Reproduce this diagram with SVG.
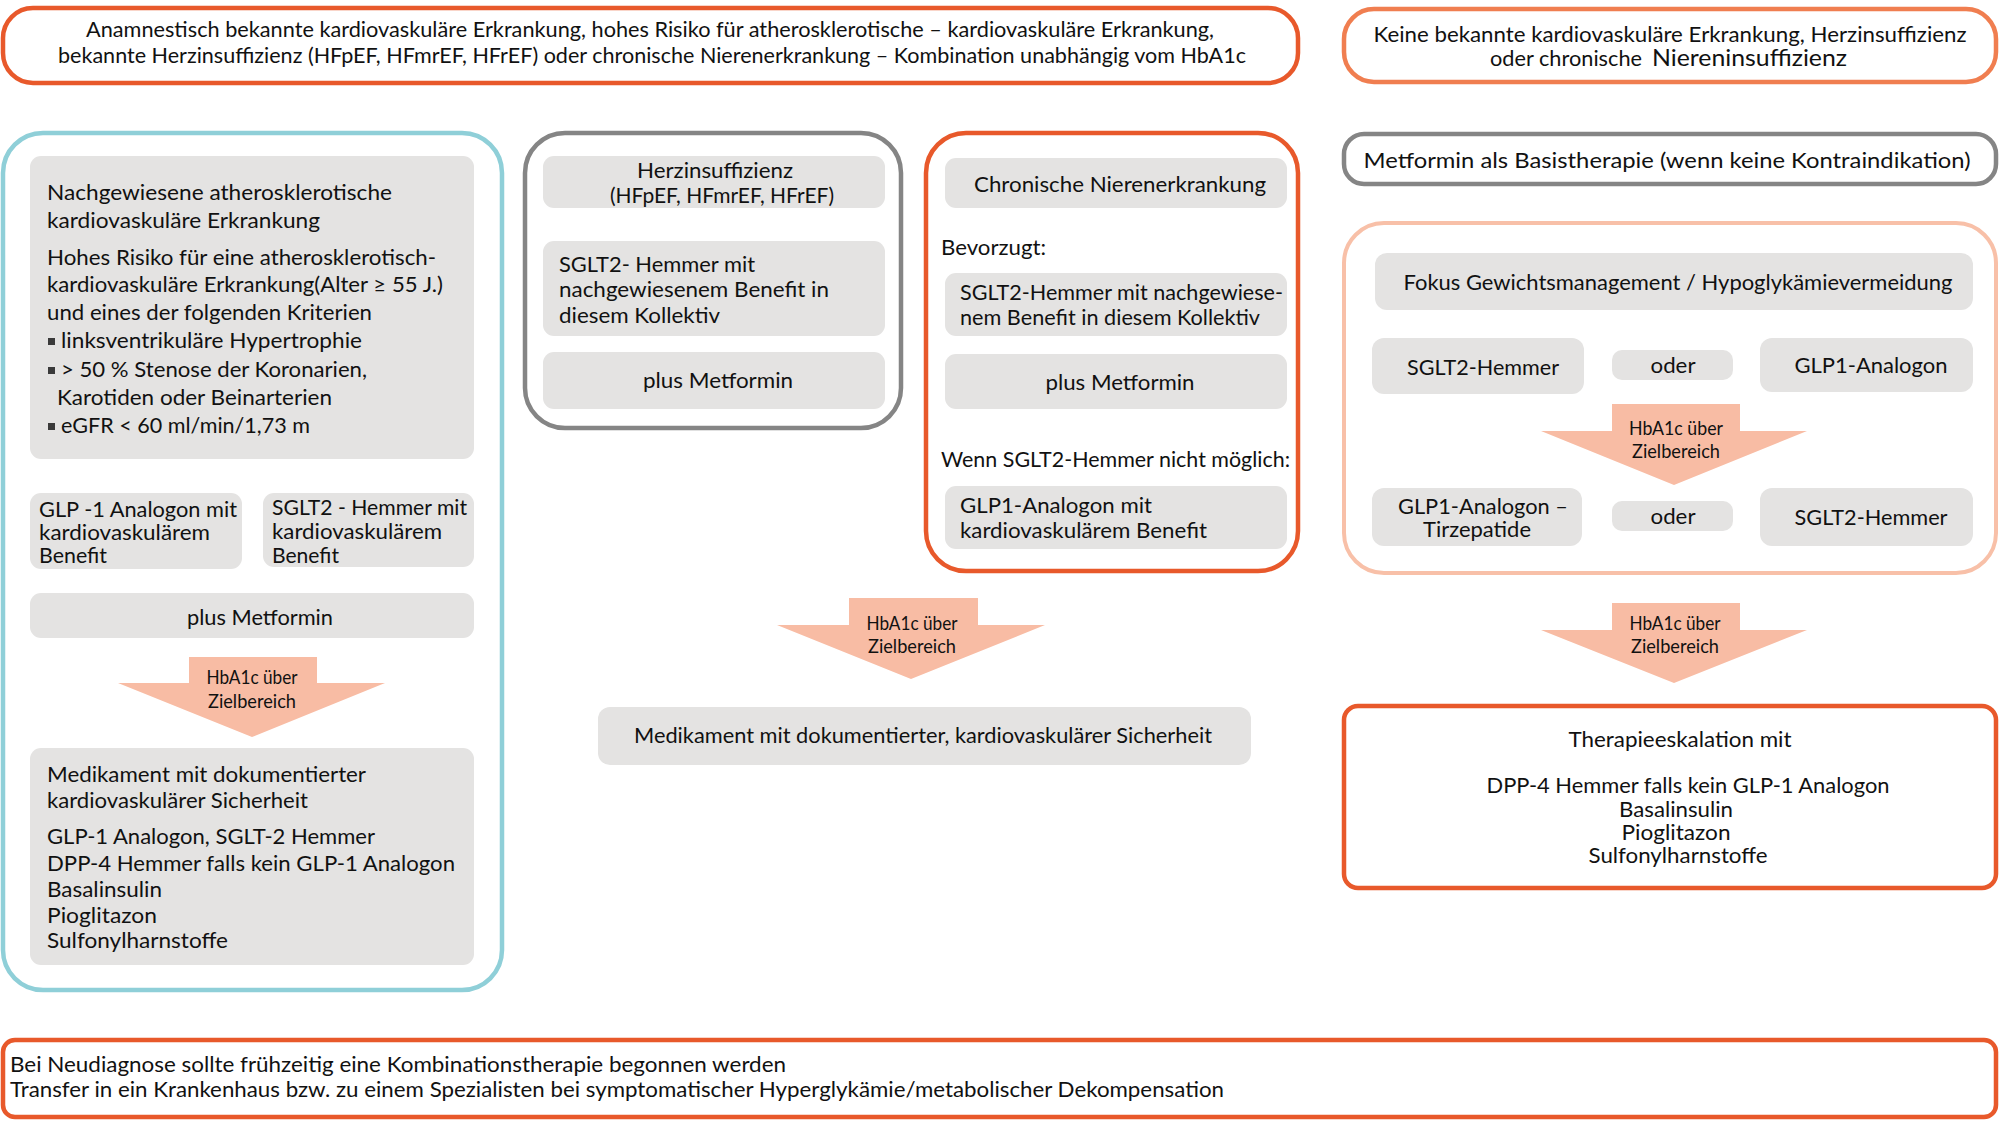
<svg xmlns="http://www.w3.org/2000/svg" width="2000" height="1122" viewBox="0 0 2000 1122">
<style>
.t{font-family:Lato,"Open Sans","Liberation Sans",sans-serif;font-size:22px;fill:#111}
.b{font-size:21px}
.s{font-size:18.5px}
.c{text-anchor:middle}
.g{fill:#E4E3E2}
.or{fill:none;stroke:#E8592B;stroke-width:4.5}
.or2{fill:none;stroke:#F07E50;stroke-width:4.5}
.gr{fill:none;stroke:#858585;stroke-width:4.5}
.te{fill:none;stroke:#8FCFD8;stroke-width:4.5}
.sa{fill:none;stroke:#F8C0A8;stroke-width:4}
.ar{fill:#F8BCA4}
.bu{fill:#3a3a3a}
</style>

<g id="header-left">
<rect class="or" x="3" y="8" width="1295" height="75" rx="30"/>
<text class="t b c" x="650" y="37" textLength="1128" lengthAdjust="spacingAndGlyphs">Anamnestisch bekannte kardiovaskuläre Erkrankung, hohes Risiko für atherosklerotische – kardiovaskuläre Erkrankung,</text>
<text class="t b c" x="652" y="63" textLength="1188" lengthAdjust="spacingAndGlyphs">bekannte Herzinsuffizienz (HFpEF, HFmrEF, HFrEF) oder chronische Nierenerkrankung – Kombination unabhängig vom HbA1c</text>
</g>

<g id="header-right">
<rect class="or2" x="1344" y="9" width="652" height="73" rx="30"/>
<text class="t c" style="font-size:20.5px" x="1670" y="42" textLength="593" lengthAdjust="spacingAndGlyphs">Keine bekannte kardiovaskuläre Erkrankung, Herzinsuffizienz</text>
<text class="t" style="font-size:20.5px" x="1490" y="66" textLength="152" lengthAdjust="spacingAndGlyphs">oder chronische</text>
<text class="t" style="font-size:24px" x="1652" y="66" textLength="195" lengthAdjust="spacingAndGlyphs">Niereninsuffizienz</text>
</g>

<g id="metformin-basis">
<rect class="gr" x="1344" y="134" width="652" height="50" rx="20"/>
<text class="t c" x="1667" y="168" textLength="607" lengthAdjust="spacingAndGlyphs">Metformin als Basistherapie (wenn keine Kontraindikation)</text>
</g>

<g id="ascvd-column">
<rect class="te" x="3" y="133" width="499" height="857" rx="40"/>
<g id="ascvd-criteria">
<rect class="g" x="30" y="156" width="444" height="303" rx="11"/>
<text class="t" x="47" y="200" textLength="345" lengthAdjust="spacingAndGlyphs">Nachgewiesene atherosklerotische</text>
<text class="t" x="47" y="228" textLength="273" lengthAdjust="spacingAndGlyphs">kardiovaskuläre Erkrankung</text>
<text class="t" x="47" y="265" textLength="389" lengthAdjust="spacingAndGlyphs">Hohes Risiko für eine atherosklerotisch-</text>
<text class="t" x="47" y="292" textLength="396" lengthAdjust="spacingAndGlyphs">kardiovaskuläre Erkrankung(Alter ≥ 55 J.)</text>
<text class="t" x="47" y="320" textLength="325" lengthAdjust="spacingAndGlyphs">und eines der folgenden Kriterien</text>
<rect class="bu" x="48" y="338" width="7" height="7"/>
<text class="t" x="61" y="348" textLength="301" lengthAdjust="spacingAndGlyphs">linksventrikuläre Hypertrophie</text>
<rect class="bu" x="48" y="367" width="7" height="7"/>
<text class="t" x="61" y="377" textLength="306" lengthAdjust="spacingAndGlyphs">&gt; 50 % Stenose der Koronarien,</text>
<text class="t" x="57" y="405" textLength="275" lengthAdjust="spacingAndGlyphs">Karotiden oder Beinarterien</text>
<rect class="bu" x="48" y="423" width="7" height="7"/>
<text class="t" x="61" y="433" textLength="249" lengthAdjust="spacingAndGlyphs">eGFR &lt; 60 ml/min/1,73 m</text>
</g>
<g id="ascvd-glp1">
<rect class="g" x="30" y="493" width="212" height="76" rx="11"/>
<text class="t" x="39" y="517" textLength="198" lengthAdjust="spacingAndGlyphs">GLP -1 Analogon mit</text>
<text class="t" x="39" y="540" textLength="171" lengthAdjust="spacingAndGlyphs">kardiovaskulärem</text>
<text class="t" x="39" y="563" textLength="68" lengthAdjust="spacingAndGlyphs">Benefit</text>
</g>
<g id="ascvd-sglt2">
<rect class="g" x="263" y="493" width="211" height="74" rx="11"/>
<text class="t" x="272" y="515" textLength="195" lengthAdjust="spacingAndGlyphs">SGLT2 - Hemmer mit</text>
<text class="t" x="272" y="539" textLength="170" lengthAdjust="spacingAndGlyphs">kardiovaskulärem</text>
<text class="t" x="272" y="563" textLength="67" lengthAdjust="spacingAndGlyphs">Benefit</text>
</g>
<g id="ascvd-metformin">
<rect class="g" x="30" y="593" width="444" height="45" rx="11"/>
<text class="t c" x="260" y="625" textLength="146" lengthAdjust="spacingAndGlyphs">plus Metformin</text>
</g>
<g id="ascvd-safety">
<rect class="g" x="30" y="748" width="444" height="217" rx="11"/>
<text class="t" x="47" y="782" textLength="319" lengthAdjust="spacingAndGlyphs">Medikament mit dokumentierter</text>
<text class="t" x="47" y="808" textLength="261" lengthAdjust="spacingAndGlyphs">kardiovaskulärer Sicherheit</text>
<text class="t" x="47" y="844" textLength="328" lengthAdjust="spacingAndGlyphs">GLP-1 Analogon, SGLT-2 Hemmer</text>
<text class="t" x="47" y="871" textLength="408" lengthAdjust="spacingAndGlyphs">DPP-4 Hemmer falls kein GLP-1 Analogon</text>
<text class="t" x="47" y="897" textLength="115" lengthAdjust="spacingAndGlyphs">Basalinsulin</text>
<text class="t" x="47" y="923" textLength="110" lengthAdjust="spacingAndGlyphs">Pioglitazon</text>
<text class="t" x="47" y="948" textLength="181" lengthAdjust="spacingAndGlyphs">Sulfonylharnstoffe</text>
</g>
</g>

<g id="hf-column">
<rect class="gr" x="525" y="133" width="376" height="295" rx="40"/>
<g id="hf-title">
<rect class="g" x="543" y="156" width="342" height="52" rx="11"/>
<text class="t c" x="715" y="178" textLength="156" lengthAdjust="spacingAndGlyphs">Herzinsuffizienz</text>
<text class="t c" x="722" y="203" textLength="224" lengthAdjust="spacingAndGlyphs">(HFpEF, HFmrEF, HFrEF)</text>
</g>
<g id="hf-sglt2">
<rect class="g" x="543" y="241" width="342" height="95" rx="11"/>
<text class="t" x="559" y="272" textLength="196" lengthAdjust="spacingAndGlyphs">SGLT2- Hemmer mit</text>
<text class="t" x="559" y="297" textLength="270" lengthAdjust="spacingAndGlyphs">nachgewiesenem Benefit in</text>
<text class="t" x="559" y="323" textLength="161" lengthAdjust="spacingAndGlyphs">diesem Kollektiv</text>
</g>
<g id="hf-metformin">
<rect class="g" x="543" y="352" width="342" height="57" rx="11"/>
<text class="t c" x="718" y="388" textLength="150" lengthAdjust="spacingAndGlyphs">plus Metformin</text>
</g>
</g>

<g id="ckd-column">
<rect class="or" x="926" y="133" width="372" height="438" rx="40"/>
<g id="ckd-title">
<rect class="g" x="945" y="158" width="342" height="50" rx="11"/>
<text class="t c" x="1120" y="192" textLength="292" lengthAdjust="spacingAndGlyphs">Chronische Nierenerkrankung</text>
</g>
<text class="t" x="941" y="255" textLength="105" lengthAdjust="spacingAndGlyphs">Bevorzugt:</text>
<g id="ckd-sglt2">
<rect class="g" x="945" y="273" width="342" height="63" rx="11"/>
<text class="t" x="960" y="300" textLength="323" lengthAdjust="spacingAndGlyphs">SGLT2-Hemmer mit nachgewiese-</text>
<text class="t" x="960" y="325" textLength="300" lengthAdjust="spacingAndGlyphs">nem Benefit in diesem Kollektiv</text>
</g>
<g id="ckd-metformin">
<rect class="g" x="945" y="354" width="342" height="55" rx="11"/>
<text class="t c" x="1120" y="390" textLength="149" lengthAdjust="spacingAndGlyphs">plus Metformin</text>
</g>
<text class="t" x="941" y="467" textLength="349" lengthAdjust="spacingAndGlyphs">Wenn SGLT2-Hemmer nicht möglich:</text>
<g id="ckd-glp1">
<rect class="g" x="945" y="486" width="342" height="63" rx="11"/>
<text class="t" x="960" y="513" textLength="192" lengthAdjust="spacingAndGlyphs">GLP1-Analogon mit</text>
<text class="t" x="960" y="538" textLength="247" lengthAdjust="spacingAndGlyphs">kardiovaskulärem Benefit</text>
</g>
</g>

<g id="middle-safety">
<rect class="g" x="598" y="707" width="653" height="58" rx="12"/>
<text class="t c" x="923" y="743" textLength="578" lengthAdjust="spacingAndGlyphs">Medikament mit dokumentierter, kardiovaskulärer Sicherheit</text>
</g>

<g id="no-cvd-column">
<rect class="sa" x="1344" y="223" width="652" height="350" rx="40"/>
<g id="fokus">
<rect class="g" x="1375" y="253" width="598" height="57" rx="12"/>
<text class="t c" x="1678" y="290" textLength="549" lengthAdjust="spacingAndGlyphs">Fokus Gewichtsmanagement / Hypoglykämievermeidung</text>
</g>
<g id="r-sglt2-a">
<rect class="g" x="1372" y="338" width="212" height="56" rx="12"/>
<text class="t c" x="1483" y="375" textLength="152" lengthAdjust="spacingAndGlyphs">SGLT2-Hemmer</text>
</g>
<g id="r-oder-a">
<rect class="g" x="1612" y="350" width="121" height="30" rx="10"/>
<text class="t c" x="1673" y="373" textLength="45" lengthAdjust="spacingAndGlyphs">oder</text>
</g>
<g id="r-glp1-a">
<rect class="g" x="1760" y="338" width="213" height="54" rx="12"/>
<text class="t c" x="1871" y="373" textLength="153" lengthAdjust="spacingAndGlyphs">GLP1-Analogon</text>
</g>
<g id="r-glp1-b">
<rect class="g" x="1372" y="488" width="210" height="58" rx="12"/>
<text class="t c" x="1483" y="514" textLength="170" lengthAdjust="spacingAndGlyphs">GLP1-Analogon –</text>
<text class="t c" x="1477" y="537" textLength="108" lengthAdjust="spacingAndGlyphs">Tirzepatide</text>
</g>
<g id="r-oder-b">
<rect class="g" x="1612" y="501" width="121" height="30" rx="10"/>
<text class="t c" x="1673" y="524" textLength="45" lengthAdjust="spacingAndGlyphs">oder</text>
</g>
<g id="r-sglt2-b">
<rect class="g" x="1760" y="488" width="213" height="58" rx="12"/>
<text class="t c" x="1871" y="525" textLength="153" lengthAdjust="spacingAndGlyphs">SGLT2-Hemmer</text>
</g>
</g>

<g id="escalation">
<rect class="or" x="1344" y="706" width="652" height="182" rx="14"/>
<text class="t c" x="1680" y="747" textLength="223" lengthAdjust="spacingAndGlyphs">Therapieeskalation mit</text>
<text class="t c" x="1688" y="793" textLength="403" lengthAdjust="spacingAndGlyphs">DPP-4 Hemmer falls kein GLP-1 Analogon</text>
<text class="t c" x="1676" y="817" textLength="114" lengthAdjust="spacingAndGlyphs">Basalinsulin</text>
<text class="t c" x="1676" y="840" textLength="109" lengthAdjust="spacingAndGlyphs">Pioglitazon</text>
<text class="t c" x="1678" y="863" textLength="179" lengthAdjust="spacingAndGlyphs">Sulfonylharnstoffe</text>
</g>

<g id="footer">
<rect class="or" x="3" y="1040" width="1993" height="77" rx="12"/>
<text class="t b" x="10" y="1072" textLength="776" lengthAdjust="spacingAndGlyphs">Bei Neudiagnose sollte frühzeitig eine Kombinationstherapie begonnen werden</text>
<text class="t b" x="10" y="1097" textLength="1214" lengthAdjust="spacingAndGlyphs">Transfer in ein Krankenhaus bzw. zu einem Spezialisten bei symptomatischer Hyperglykämie/metabolischer Dekompensation</text>
</g>

<g id="connectors">
<g id="arrow-left">
<polygon class="ar" points="189,657 317,657 317,683 385,683 252,737 118,683 189,683"/>
<text class="t s c" x="252" y="684" textLength="91" lengthAdjust="spacingAndGlyphs">HbA1c über</text>
<text class="t s c" x="252" y="708" textLength="88" lengthAdjust="spacingAndGlyphs">Zielbereich</text>
</g>
<g id="arrow-middle">
<polygon class="ar" points="849,598 978,598 978,625 1045,625 911,679 777,625 849,625"/>
<text class="t s c" x="912" y="630" textLength="91" lengthAdjust="spacingAndGlyphs">HbA1c über</text>
<text class="t s c" x="912" y="653" textLength="88" lengthAdjust="spacingAndGlyphs">Zielbereich</text>
</g>
<g id="arrow-right-1">
<polygon class="ar" points="1612,404 1740,404 1740,431 1807,431 1674,485 1541,431 1612,431"/>
<text class="t s c" x="1676" y="435" textLength="94" lengthAdjust="spacingAndGlyphs">HbA1c über</text>
<text class="t s c" x="1676" y="458" textLength="88" lengthAdjust="spacingAndGlyphs">Zielbereich</text>
</g>
<g id="arrow-right-2">
<polygon class="ar" points="1612,603 1740,603 1740,630 1807,630 1674,683 1541,630 1612,630"/>
<text class="t s c" x="1675" y="630" textLength="91" lengthAdjust="spacingAndGlyphs">HbA1c über</text>
<text class="t s c" x="1675" y="653" textLength="88" lengthAdjust="spacingAndGlyphs">Zielbereich</text>
</g>
</g>
</svg>
